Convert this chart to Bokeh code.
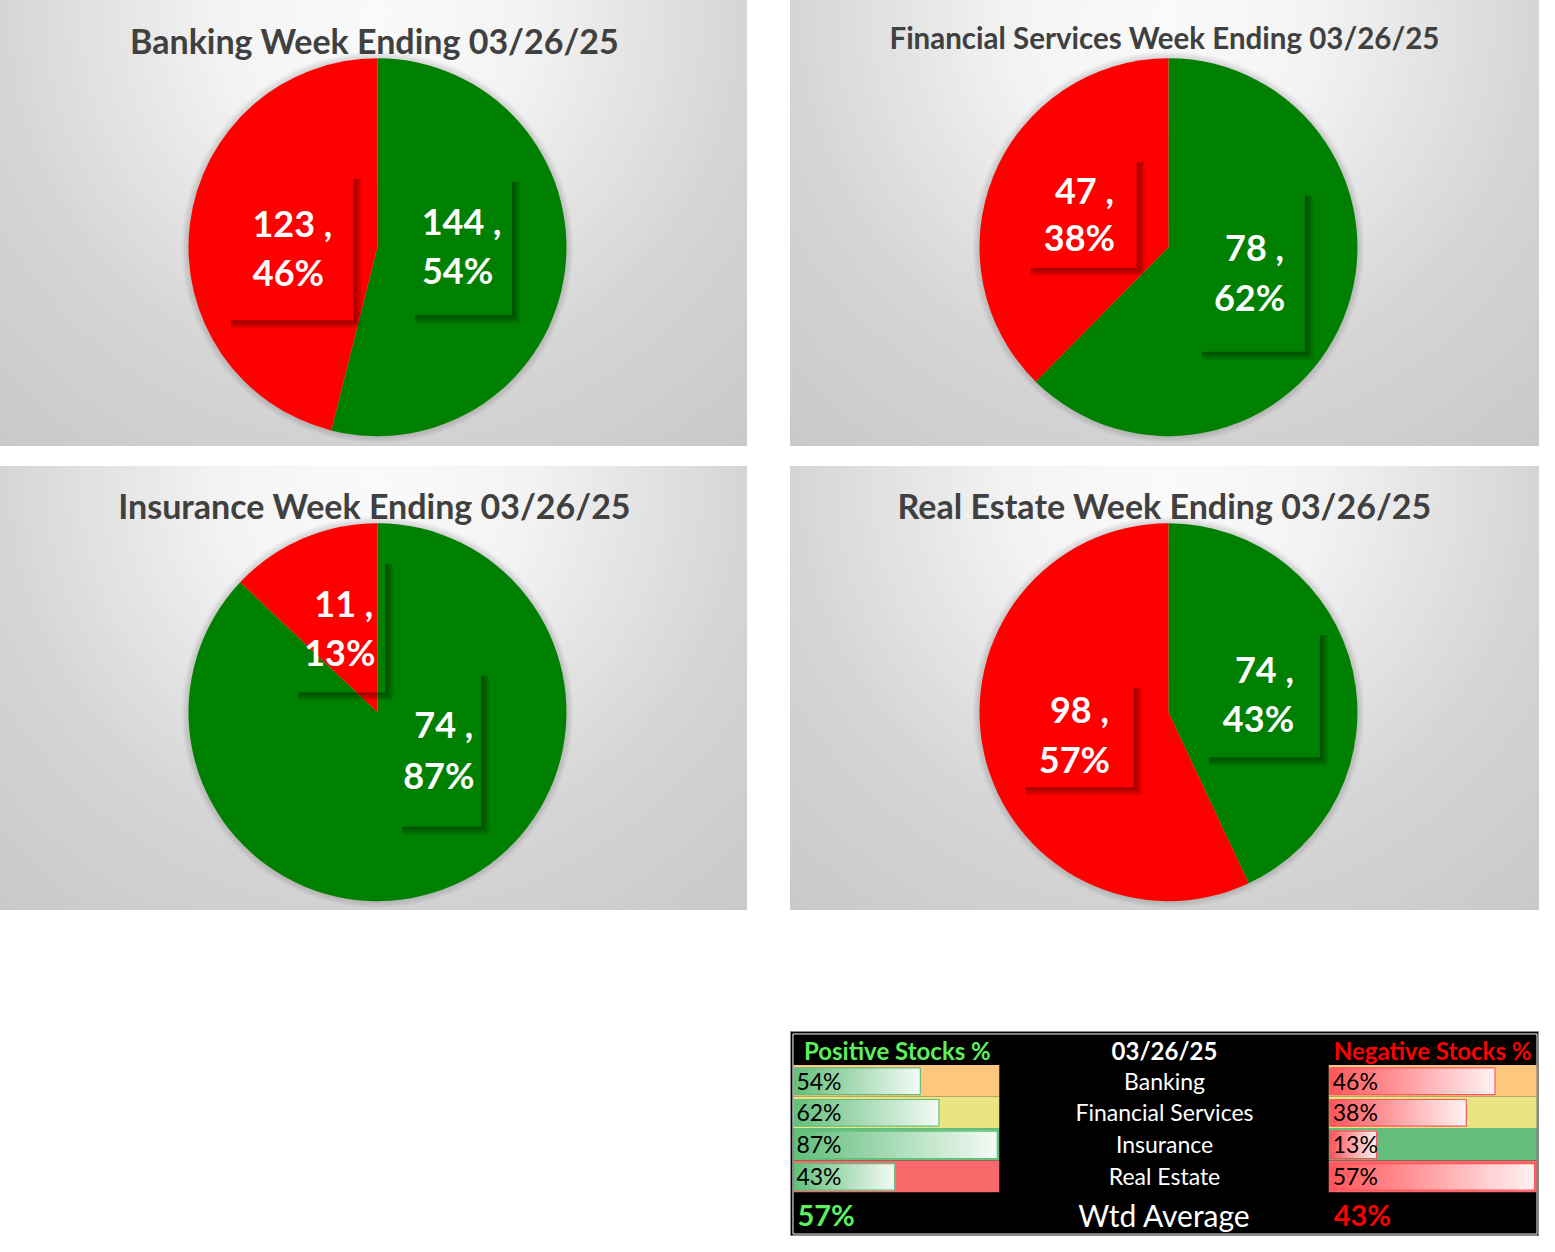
import numpy as np
from bokeh.plotting import figure
from bokeh.layouts import column, row
from bokeh.models import Range1d, Spacer
from bokeh.core.properties import value
from bokeh.embed import file_html
from bokeh.resources import INLINE

# ---------------- data ----------------
WEEK = "03/26/25"
SECTORS = ["Banking", "Financial Services", "Insurance", "Real Estate"]
POSITIVE = [144, 78, 74, 74]
NEGATIVE = [123, 47, 11, 98]

POS_PCT = [round(100 * p / (p + n)) for p, n in zip(POSITIVE, NEGATIVE)]
NEG_PCT = [round(100 * n / (p + n)) for p, n in zip(POSITIVE, NEGATIVE)]
WTD_POS = round(100 * sum(POSITIVE) / (sum(POSITIVE) + sum(NEGATIVE)))
WTD_NEG = round(100 * sum(NEGATIVE) / (sum(POSITIVE) + sum(NEGATIVE)))

# ---------------- style / layout (reference pixel frame) ----------------
GREEN = "#008000"
RED = "#FF0000"
FONT = value("Lato")
TITLE_COLOR = "#404040"

KX = 1539 / 1555
KY = 1236 / 1252

PANELS = [(0, 0, 755, 452), (798, 0, 1555, 452), (0, 472, 755, 922), (798, 472, 1555, 922)]
PIE_C = [(381, 250), (1180, 250), (381, 721), (1180, 721)]
PIE_R = 191
TITLE_XY = [(378, 41), (1176, 38), (378, 512), (1176, 512)]
TITLE_SIZE = [34, 29.5, 34, 34]
# (box left, right, top, bottom), line1 centre, line2 centre
POS_LBL = [((413, 517, 178, 319), (466, 223), (462, 273)),
           ((1208, 1318, 192, 356), (1267, 250), (1262, 300)),
           ((400, 486, 678, 837), (448, 733), (443, 785)),
           ((1215, 1333, 637, 767), (1277, 677), (1271, 727))]
NEG_LBL = [((227, 357, 175, 324), (295, 225), (291, 275)),
           ((1035, 1148, 158, 271), (1095, 192), (1090, 240)),
           ((295, 389, 565, 701), (347, 610), (343, 660)),
           ((1030, 1145, 690, 797), (1090, 718), (1085, 768))]


def hexgray(v):
    v = int(round(v))
    return "#%02x%02x%02x" % (v, v, v)


def mix(c1, c2, t):
    return "#%02x%02x%02x" % tuple(int(round(a + (b - a) * t)) for a, b in zip(c1, c2))


def rgb(h):
    h = h.lstrip("#")
    return tuple(int(h[i:i + 2], 16) for i in (0, 2, 4))


def panel_fig(i):
    x0, y0, x1, y1 = PANELS[i]
    p = figure(width=round((x1 - x0) * KX), height=round((y1 - y0) * KY),
               x_range=Range1d(x0, x1), y_range=Range1d(-y1, -y0),
               output_backend="svg", toolbar_location=None,
               x_axis_location=None, y_axis_location=None, min_border=0,
               outline_line_color="#bdbdbd", background_fill_color="#c8c8c8",
               border_fill_color="white")
    p.grid.visible = False
    # radial background gradient
    gx, gy = (x0 + x1) / 2, -(y0 + 15)
    radii = np.arange(660, 0, -6)
    vals = np.interp(radii, [0, 150, 380, 660], [250, 244, 213, 196])
    p.circle(x=[gx] * len(radii), y=[gy] * len(radii), radius=list(radii),
             fill_color=[hexgray(v) for v in vals], line_color=None)
    cx, cy = PIE_C[i]
    # soft shadow around the pie
    for k in range(7, 0, -1):
        p.circle(x=[cx], y=[-cy], radius=PIE_R + k, fill_color="black",
                 fill_alpha=0.018, line_color=None)
    total = POSITIVE[i] + NEGATIVE[i]
    a_split = np.pi / 2 - 2 * np.pi * POSITIVE[i] / total
    p.wedge(x=[cx, cx], y=[-cy, -cy], radius=PIE_R,
            start_angle=[np.pi / 2, a_split],
            end_angle=[a_split, np.pi / 2 - 2 * np.pi],
            direction="clock", fill_color=[GREEN, RED], line_color=None)
    # labels with box shadows
    for (box, l1, l2), txt in ((POS_LBL[i], (f"{POSITIVE[i]} ,", f"{POS_PCT[i]}%")),
                               (NEG_LBL[i], (f"{NEGATIVE[i]} ,", f"{NEG_PCT[i]}%"))):
        bl, br, bt, bb = box
        for w in (8, 6, 4, 2):
            p.quad(left=[br, bl + 6], right=[br + w, br],
                   top=[-(bt + 6), -bb], bottom=[-(bb + w), -(bb + w)],
                   fill_color="black", fill_alpha=0.1, line_color=None)
        p.text(x=[l1[0], l2[0]], y=[-l1[1], -l2[1]], text=list(txt),
               text_align="center", text_baseline="middle", text_font=FONT,
               text_font_style="bold", text_font_size="36px", text_color="white")
    tx, ty = TITLE_XY[i]
    p.text(x=[tx], y=[-ty], text=[f"{SECTORS[i]} Week Ending {WEEK}"],
           text_align="center", text_baseline="middle", text_font=FONT,
           text_font_style="bold", text_font_size=f"{TITLE_SIZE[i]}px",
           text_color=TITLE_COLOR)
    return p


panels = [panel_fig(i) for i in range(4)]

# ---------------- summary table ----------------
TX0, TY0, TX1, TY1 = 798, 1044, 1555, 1252
ROW_TOP = [1078, 1110, 1142, 1175]
ROW_BOT = [1110, 1142, 1175, 1207]
POS_CELL = (801, 1009)
NEG_CELL = (1342, 1552)
MID_X = 1176
HEAD_Y = 1063
FOOT_Y = 1230
POS_TXT = "#5DF05D"

CS_RED, CS_YEL, CS_GRN = rgb("#F8696B"), rgb("#FFEB84"), rgb("#63BE7B")


def three_scale(vals, low, mid, high):
    lo, md, hi = min(vals), float(np.percentile(vals, 50)), max(vals)
    out = []
    for v in vals:
        if v <= md:
            out.append(mix(low, mid, (v - lo) / (md - lo)))
        else:
            out.append(mix(mid, high, (v - md) / (hi - md)))
    return out


t = figure(width=round((TX1 - TX0) * KX), height=round((TY1 - TY0) * KY),
           x_range=Range1d(TX0, TX1), y_range=Range1d(-TY1, -TY0),
           output_backend="svg", toolbar_location=None,
           x_axis_location=None, y_axis_location=None, min_border=0,
           outline_line_color="#8c8c8c", background_fill_color="black",
           border_fill_color="black")
t.grid.visible = False
t.quad(left=[TX0 + 2.5], right=[TX1 - 2.5], top=[-(TY0 + 2.5)], bottom=[-(TY1 - 2.5)],
       fill_color=None, line_color="white", line_width=1)

pos_bg = three_scale(POS_PCT, CS_RED, CS_YEL, CS_GRN)
neg_bg = three_scale(NEG_PCT, CS_GRN, CS_YEL, CS_RED)
row_tops = [-v for v in ROW_TOP]
row_bots = [-v for v in ROW_BOT]
t.quad(left=[POS_CELL[0]] * 4, right=[POS_CELL[1]] * 4, top=row_tops, bottom=row_bots,
       fill_color=pos_bg, line_color=None)
t.quad(left=[NEG_CELL[0]] * 4, right=[NEG_CELL[1]] * 4, top=row_tops, bottom=row_bots,
       fill_color=neg_bg, line_color=None)


def data_bars(vals, cell, base_hex):
    base = rgb(base_hex)
    x_start = cell[0] + 1
    full = cell[1] - 2 - x_start
    vmax = max(vals)
    n = 40
    L, R, T, B, C = [], [], [], [], []
    for k, v in enumerate(vals):
        length = full * v / vmax
        top, bot = -(ROW_TOP[k] + 3), -(ROW_BOT[k] - 2)
        for j in range(n):
            L.append(x_start + length * j / n)
            R.append(min(x_start + length * (j + 1) / n + 1.5, x_start + length))
            T.append(top)
            B.append(bot)
            C.append(mix(base, (255, 255, 255), 0.93 * (j + 0.5) / n))
    t.quad(left=L, right=R, top=T, bottom=B, fill_color=C, line_color=C, line_width=0.5)
    t.quad(left=[x_start] * len(vals), right=[x_start + full * v / vmax for v in vals],
           top=[-(r + 3) for r in ROW_TOP], bottom=[-(r - 2) for r in ROW_BOT],
           fill_color=None, line_color=base_hex, line_width=1.2)


data_bars(POS_PCT, POS_CELL, "#63BE7B")
data_bars(NEG_PCT, NEG_CELL, "#FF555A")

row_mid = [-(a + b) / 2 for a, b in zip(ROW_TOP, ROW_BOT)]
t.text(x=[POS_CELL[0] + 3] * 4, y=row_mid, text=[f"{v}%" for v in POS_PCT],
       text_align="left", text_baseline="middle", text_font=FONT,
       text_font_size="23px", text_color="black")
t.text(x=[NEG_CELL[0] + 4] * 4, y=row_mid, text=[f"{v}%" for v in NEG_PCT],
       text_align="left", text_baseline="middle", text_font=FONT,
       text_font_size="23px", text_color="black")
t.text(x=[MID_X] * 4, y=row_mid, text=SECTORS, text_align="center",
       text_baseline="middle", text_font=FONT, text_font_size="23px",
       text_color="white")
# header
t.text(x=[(POS_CELL[0] + POS_CELL[1]) / 2 + 1, MID_X, (NEG_CELL[0] + NEG_CELL[1]) / 2],
       y=[-HEAD_Y] * 3, text=["Positive Stocks %", WEEK, "Negative Stocks %"],
       text_align="center", text_baseline="middle", text_font=FONT,
       text_font_style="bold", text_font_size="24px",
       text_color=[POS_TXT, "white", RED])
# footer
t.text(x=[POS_CELL[0] + 4, NEG_CELL[0] + 5], y=[-FOOT_Y] * 2,
       text=[f"{WTD_POS}%", f"{WTD_NEG}%"], text_align="left", text_baseline="middle",
       text_font=FONT, text_font_style="bold", text_font_size="29px",
       text_color=[POS_TXT, RED])
t.text(x=[MID_X], y=[-FOOT_Y], text=["Wtd Average"], text_align="center",
       text_baseline="middle", text_font=FONT, text_font_size="30px",
       text_color="white")

gap_x = 1539 - panels[0].width - panels[1].width
layout = column(
    row(panels[0], Spacer(width=gap_x), panels[1]),
    Spacer(height=20),
    row(panels[2], Spacer(width=gap_x), panels[3]),
    Spacer(height=1236 - 20 - panels[0].height - panels[2].height - t.height),
    row(Spacer(width=1539 - t.width), t),
)

open("out.html", "w").write(file_html(layout, INLINE))
